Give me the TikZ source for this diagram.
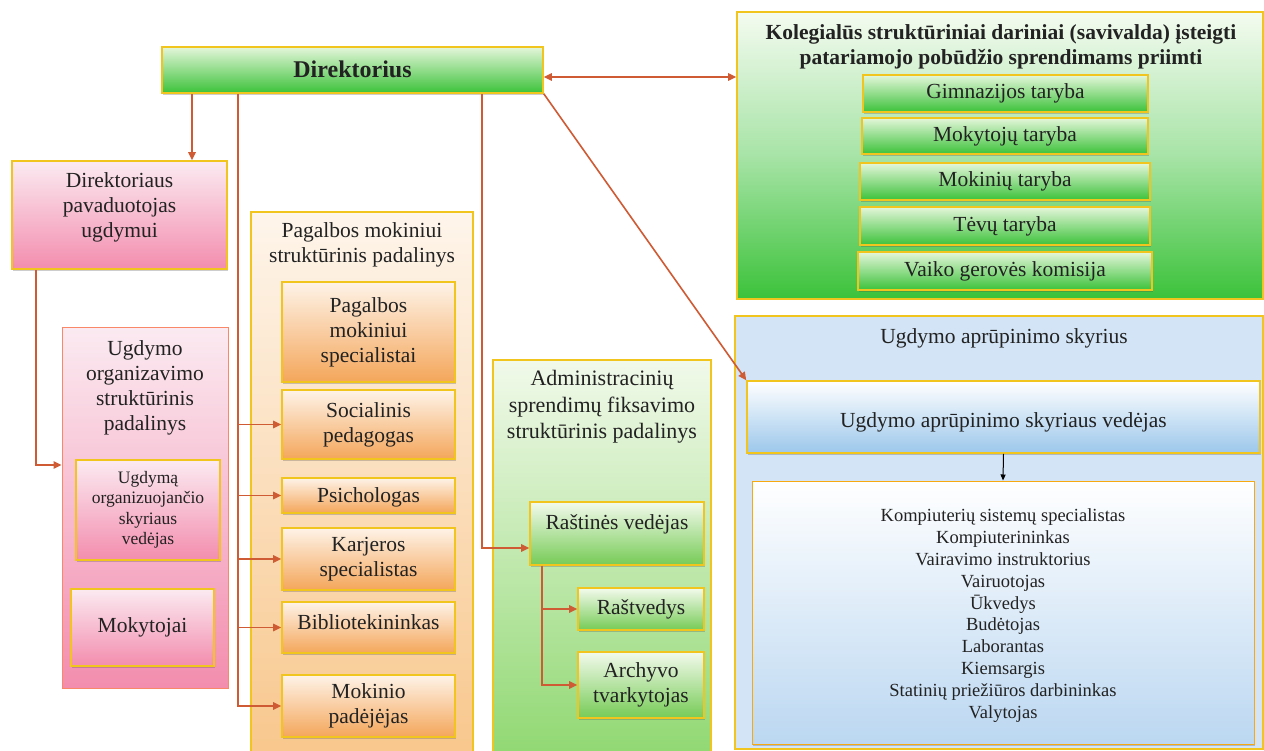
\documentclass[tikz,border=0pt]{standalone}
\usepackage{fontspec}
\setmainfont{Liberation Serif}
\usetikzlibrary{arrows.meta,shadows}
\definecolor{gold}{HTML}{F2C51E}
\definecolor{arrc}{HTML}{CF5B34}
\definecolor{txt}{HTML}{222222}
\definecolor{gtop}{HTML}{E4F6DA}
\definecolor{gbot}{HTML}{3CC23A}
\definecolor{ptop}{HTML}{FBEAF1}
\definecolor{pbot}{HTML}{F38DAE}
\definecolor{otop}{HTML}{FEF3E8}
\definecolor{obot}{HTML}{F4A65A}
\definecolor{ootop}{HTML}{FEF5EB}
\definecolor{oobot}{HTML}{F8C68A}
\definecolor{agtop}{HTML}{F1F9EA}
\definecolor{agbot}{HTML}{8DD76E}
\definecolor{rgtop}{HTML}{F3FAEC}
\definecolor{rgbot}{HTML}{76CB56}
\definecolor{blueout}{HTML}{D2E4F5}
\definecolor{bltop}{HTML}{FFFFFF}
\definecolor{blbot}{HTML}{9CC7EB}
\definecolor{lsbot}{HTML}{BBD7F1}
\newcommand{\fa}{\fontsize{21.5}{25}\selectfont}
\newcommand{\fbd}{\fontsize{21.5}{25}\selectfont\bfseries}
\newcommand{\fdir}{\fontsize{24}{26}\selectfont\bfseries}
\newcommand{\fsm}{\fontsize{17.5}{20.5}\selectfont}
\newcommand{\fls}{\fontsize{18.5}{21.8}\selectfont}
\newcommand{\fcn}{\fontsize{21.5}{24}\selectfont}
\newcommand{\fad}{\fontsize{22}{26.5}\selectfont}
\newcommand{\mybox}[8]{\node[#6, minimum width={((#4)-(#2))*1pt}, minimum height={((#5)-(#3))*1pt}, label={[lb,#7]center:{#8}}] (#1) at ({((#2)+(#4))/2},{((#3)+(#5))/2}) {};}
\tikzset{
  lb/.style={align=center, text=txt, inner sep=0pt, font=\fa},
  bx/.style={draw=gold, line width=1.6pt, inner sep=0pt},
  sh/.style={drop shadow={opacity=0.28, shadow xshift=1.2pt, shadow yshift=-1.6pt, fill=black!70}},
  greenbox/.style={bx, sh, top color=gtop, bottom color=gbot},
  pinkbox/.style={bx, sh, top color=ptop, bottom color=pbot},
  orangebox/.style={bx, sh, top color=otop, bottom color=obot},
  orangeouter/.style={bx, top color=ootop, bottom color=oobot},
  pinkouter/.style={draw=pbot!60!orange, line width=1pt, inner sep=0pt, top color=ptop, bottom color=pbot},
  admouter/.style={bx, top color=agtop, bottom color=agbot},
  rgbox/.style={bx, sh, top color=rgtop, bottom color=rgbot},
  kolouter/.style={bx, top color=gtop!40!white, bottom color=gbot, middle color=gbot!45!white},
  blouter/.style={bx, fill=blueout},
  vedbox/.style={bx, sh, top color=bltop, bottom color=blbot},
  lstbox/.style={draw=orange!40!gold, line width=1pt, inner sep=0pt, sh, top color=bltop, bottom color=lsbot},
  arr/.style={draw=arrc, line width=1.6pt, -{Triangle[length=8pt,width=7.5pt]}},
  arrb/.style={draw=arrc, line width=1.6pt, {Triangle[length=8pt,width=7.5pt]}-{Triangle[length=8pt,width=7.5pt]}},
  blk/.style={draw=black, line width=1pt, -{Triangle[length=6pt,width=5pt]}}
}
\begin{document}
\begin{tikzpicture}[x=1pt,y=-1pt]
\useasboundingbox (0,0) rectangle (1264,751);
\clip (0,0) rectangle (1264,751);
\fill[white] (0,0) rectangle (1264,751);
% Director
\mybox{dir}{162}{47}{543}{93}{greenbox}{font=\fdir, yshift=1pt}{Direktorius}
% left pink column
\mybox{dpav}{12}{161}{227}{269}{pinkbox}{yshift=8pt}{Direktoriaus\\pavaduotojas\\ugdymui}
\mybox{uo}{62}{328}{228}{688}{pinkouter}{}{}
\node[lb] (uot) at (145,388) {Ugdymo\\organizavimo\\struktūrinis\\padalinys};
\mybox{uov}{76}{460}{220}{560}{pinkbox}{font=\fsm}{Ugdymą\\organizuojančio\\skyriaus\\vedėjas}
\mybox{mok}{71}{589}{214}{666}{pinkbox}{}{Mokytojai}
% orange column
\mybox{pag}{251}{212}{473}{770}{orangeouter}{}{}
\node[lb] (pagt) at (362,245) {Pagalbos mokiniui\\struktūrinis padalinys};
\mybox{p1}{282}{282}{455}{382}{orangebox}{}{Pagalbos\\mokiniui\\specialistai}
\mybox{p2}{282}{390}{455}{459}{orangebox}{}{Socialinis\\pedagogas}
\mybox{p3}{282}{478}{455}{513}{orangebox}{yshift=-2pt}{Psichologas}
\mybox{p4}{282}{528}{455}{590}{orangebox}{}{Karjeros\\specialistas}
\mybox{p5}{282}{602}{455}{653}{orangebox}{yshift=5pt}{Bibliotekininkas}
\mybox{p6}{282}{675}{455}{737}{orangebox}{}{Mokinio\\padėjėjas}
% administrative column
\mybox{adm}{493}{360}{711}{770}{admouter}{}{}
\node[lb, font=\fad] (admt) at (602,407) {Administracinių\\sprendimų fiksavimo\\struktūrinis padalinys};
\mybox{rv}{530}{502}{704}{565}{rgbox}{yshift=9pt}{Raštinės vedėjas}
\mybox{rs}{578}{588}{704}{630}{rgbox}{}{Raštvedys}
\mybox{ar}{578}{652}{704}{718}{rgbox}{}{Archyvo\\tvarkytojas}
% collegial bodies
\mybox{kol}{737}{12}{1263}{299}{kolouter}{}{}
\node[lb, font=\fbd] (kolt) at (1001,46.5) {Kolegialūs struktūriniai dariniai (savivalda) įsteigti\\patariamojo pobūdžio sprendimams priimti};
\mybox{c1}{863}{75}{1148}{112}{greenbox}{font=\fcn}{Gimnazijos taryba}
\mybox{c2}{862}{118}{1148}{154}{greenbox}{font=\fcn}{Mokytojų taryba}
\mybox{c3}{860}{163}{1150}{200}{greenbox}{font=\fcn}{Mokinių taryba}
\mybox{c4}{860}{207}{1150}{245}{greenbox}{font=\fcn}{Tėvų taryba}
\mybox{c5}{858}{252}{1152}{290}{greenbox}{font=\fcn}{Vaiko gerovės komisija}
% supply department
\mybox{blu}{735}{316}{1263}{749}{blouter}{}{}
\node[lb, font=\fcn] (blut) at (1004,338) {Ugdymo aprūpinimo skyrius};
\mybox{ved}{747}{381}{1260}{453}{vedbox}{font=\fcn, yshift=-5pt}{Ugdymo aprūpinimo skyriaus vedėjas}
\mybox{lst}{752}{481}{1254}{744}{lstbox}{font=\fls, yshift=-3pt}{Kompiuterių sistemų specialistas\\Kompiuterininkas\\Vairavimo instruktorius\\Vairuotojas\\Ūkvedys\\Budėtojas\\Laborantas\\Kiemsargis\\Statinių priežiūros darbininkas\\Valytojas}
% connectors
\coordinate (ta) at (192,0);
\coordinate (tb) at (238,0);
\coordinate (tc) at (482,0);
\coordinate (td) at (36,0);
\coordinate (te) at (542,0);
\coordinate (ya) at (0,465);
\coordinate (yb) at (0,548);
\coordinate (yc) at (0,77);
\draw[arr] (dir.south -| ta) -- (dpav.north -| ta);
\draw[arr] (dir.south -| tb) |- (p6.west);
\draw[arr] (p2.west -| tb) -- (p2.west);
\draw[arr] (p3.west -| tb) -- (p3.west);
\draw[arr] (p4.west -| tb) -- (p4.west);
\draw[arr] (p5.west -| tb) -- (p5.west);
\draw[arr] (dir.south -| tc) |- (rv.west |- yb);
\draw[arr] (dpav.south -| td) |- (uo.west |- ya);
\draw[arr] (rv.south -| te) |- (rs.west);
\draw[arr] (rv.south -| te) |- (ar.west);
\draw[arrb] (dir.east |- yc) -- (kol.west |- yc);
\draw[arr] (dir.south east) -- (ved.north west);
\draw[blk] (ved.south) -- (lst.north);
\end{tikzpicture}
\end{document}
